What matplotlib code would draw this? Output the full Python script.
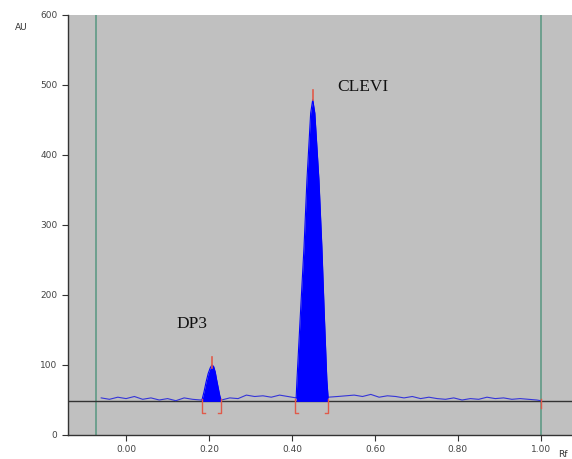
import numpy as np
import matplotlib
matplotlib.use("Agg")
import matplotlib.pyplot as plt

# noisy detector baseline (Rf, AU)
base_rf = [-0.06, -0.04, -0.02, 0.00, 0.02, 0.04, 0.06, 0.08, 0.10, 0.12, 0.14, 0.16,
           0.18, 0.23, 0.25, 0.27, 0.29, 0.31, 0.33, 0.35, 0.37, 0.39, 0.41,
           0.487, 0.51, 0.53, 0.55, 0.57, 0.59, 0.61, 0.63, 0.65, 0.67, 0.69, 0.71,
           0.73, 0.75, 0.77, 0.79, 0.81, 0.83, 0.85, 0.87, 0.89, 0.91, 0.93, 0.95,
           0.97, 0.99, 1.00]
base_au = [53, 51, 54, 52, 55, 51, 53, 50, 52, 49, 53, 51,
           50, 50, 53, 52, 57, 55, 56, 54, 57, 55, 53,
           54, 55, 56, 57, 55, 58, 54, 56, 55, 53, 55, 52,
           54, 52, 51, 53, 50, 52, 51, 54, 52, 53, 51, 52,
           51, 50, 49]

# peaks (Rf, AU)
dp3_rf = [0.183, 0.188, 0.193, 0.198, 0.203, 0.207, 0.211, 0.215, 0.218, 0.222, 0.226, 0.229]
dp3_au = [50, 62, 76, 88, 96, 100, 98, 90, 80, 68, 56, 50]
clevi_rf = [0.410, 0.412, 0.420, 0.429, 0.436, 0.445, 0.450,
            0.455, 0.465, 0.472, 0.478, 0.484, 0.487]
clevi_au = [53, 79, 170, 269, 364, 460, 479,
            460, 364, 269, 170, 79, 54]

peak_bounds = [(0.183, 0.228), (0.408, 0.487)]
peak_tops = [(0.207, 111), (0.450, 493)]
labels = [("DP3", 0.16, 158), ("CLEVI", 0.571, 497)]
floor_au = 48
green_lines = [-0.072, 1.00]
xticks = [0.0, 0.2, 0.4, 0.6, 0.8, 1.0]
yticks = [0, 100, 200, 300, 400, 500, 600]

fig = plt.figure(figsize=(5.72, 4.59), dpi=100)
ax = fig.add_axes([68/572, 24/459, 1 - 68/572, 420/459])
ax.set_facecolor("#c0c0c0")
ax.set_xlim(-0.14, 1.075)
ax.set_ylim(0, 600)

for g in green_lines:
    ax.axvline(g, color="#5f9a86", lw=1.2, zorder=1)
ax.axhline(floor_au, color="#333333", lw=1.0, zorder=2)

ax.plot(base_rf, base_au, color="#3535d8", lw=0.8, zorder=3)
for xs, ys in [(dp3_rf, dp3_au), (clevi_rf, clevi_au)]:
    ax.fill_between(xs, floor_au, ys, color="#0000ff", lw=0, zorder=4)
    ax.plot(xs, ys, color="#0000ff", lw=0.8, zorder=4)

red = "#e05a4a"
for a, b in peak_bounds:
    ax.plot([a, a, a + 0.007], [floor_au + 4, 32, 32], color=red, lw=1.0, zorder=5)
    ax.plot([b - 0.007, b, b], [32, 32, floor_au + 4], color=red, lw=1.0, zorder=5)
for x, y in peak_tops:
    ax.plot([x, x], [y - 15, y], color=red, lw=1.2, zorder=5)
ax.plot([1.0, 1.0], [floor_au + 4, floor_au - 10], color=red, lw=1.0, zorder=5)

for t, x, y in labels:
    ax.text(x, y, t, fontsize=12.5, family="Liberation Serif", ha="center", va="center",
            color="#111111")

ax.set_xticks(xticks)
ax.set_xticklabels([f"{v:.2f}" for v in xticks])
ax.set_yticks(yticks)
ax.tick_params(labelsize=6.5, colors="#333333", labelcolor="#444444", length=4, width=0.8)
for s in ["top", "right"]:
    ax.spines[s].set_visible(False)
for s in ["left", "bottom"]:
    ax.spines[s].set_color("#333333")
    ax.spines[s].set_linewidth(1.0)

fig.text(15/572, 1 - 28/459, "AU", fontsize=6.5, color="#333333", va="center")
fig.text(0.975, 0.0, "Rf", fontsize=6.5, color="#333333", va="bottom")

fig.savefig("out.png", dpi=100)
